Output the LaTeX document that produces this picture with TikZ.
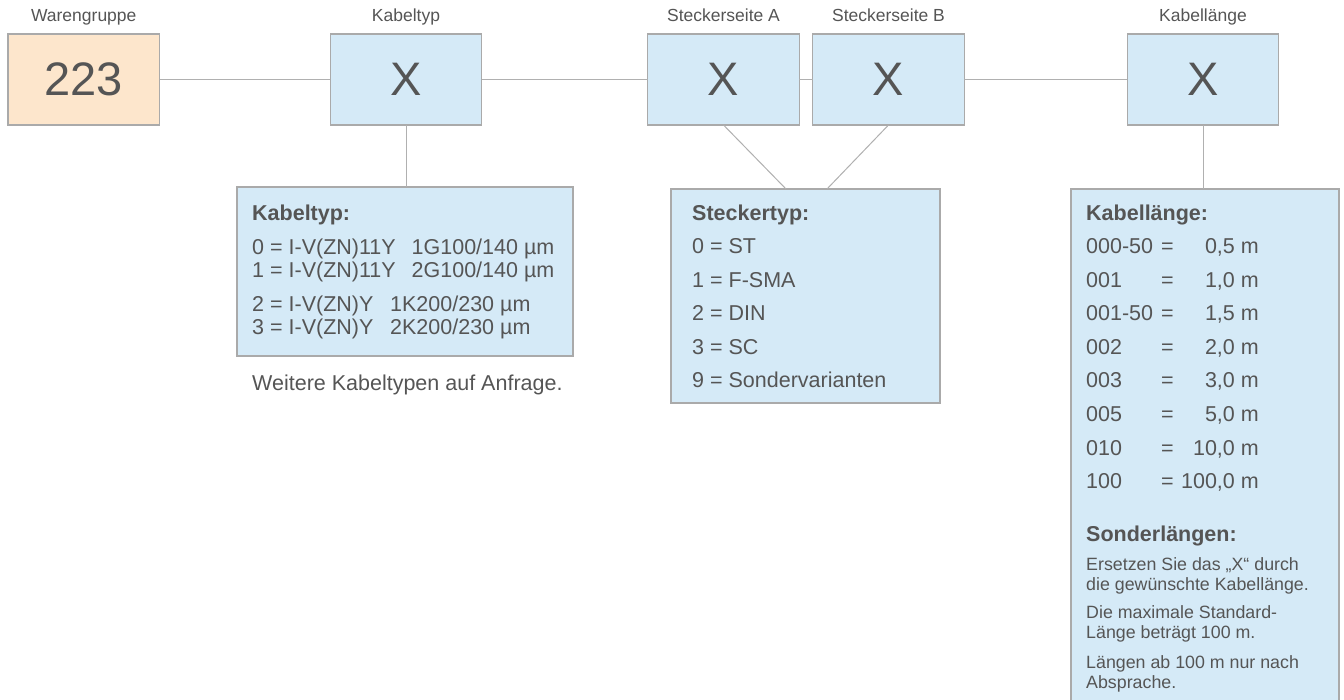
\documentclass[tikz,border=0pt]{standalone}
\usepackage{fontspec}
\setmainfont{Liberation Sans}
\definecolor{txt}{HTML}{555555}
\definecolor{bluef}{HTML}{D5EAF7}
\definecolor{orangef}{HTML}{FDE6CC}
\definecolor{bord}{HTML}{AAAAAA}
\definecolor{conn}{HTML}{B0B0B0}
\begin{document}
\begin{tikzpicture}[x=1pt,y=-1pt,
  codebox/.style={draw=bord, line width=1.2pt, minimum width=151.5pt, minimum height=91pt, inner sep=0pt, outer sep=0pt, text=txt, font=\fontsize{47}{47}\selectfont},
  bluebox/.style={codebox, fill=bluef},
  orangebox/.style={codebox, fill=orangef},
  toplabel/.style={text=txt, font=\fontsize{17.5}{17.5}\selectfont, anchor=base, inner sep=0pt},
  infobox/.style={draw=bord, line width=1.2pt, fill=bluef, inner sep=0pt, outer sep=0pt},
  body/.style={text=txt, font=\fontsize{21.5}{21.5}\selectfont, anchor=base west, inner sep=0pt},
  bodyr/.style={body, anchor=base east},
  head/.style={body, font=\fontsize{21.5}{21.5}\selectfont\bfseries},
  small/.style={body, font=\fontsize{17.8}{17.8}\selectfont},
  connector/.style={draw=conn, line width=1pt}]
\useasboundingbox (0,0) rectangle (1344,700);
\clip (0,0) rectangle (1344,700);

% code boxes
\node[orangebox] (wg) at (83.75,79.5) {223};
\node[bluebox] (kt) at (406,79.5) {X};
\node[bluebox] (sa) at (723.5,79.5) {X};
\node[bluebox] (sb) at (888.5,79.5) {X};
\node[bluebox] (kl) at (1203,79.5) {X};

% labels above
\node[toplabel] (lwg) at ([yshift=12pt]wg.north) {Warengruppe};
\node[toplabel] (lkt) at ([yshift=12pt]kt.north) {Kabeltyp};
\node[toplabel] (lsa) at ([yshift=12pt]sa.north) {Steckerseite A};
\node[toplabel] (lsb) at ([yshift=12pt]sb.north) {Steckerseite B};
\node[toplabel] (lkl) at ([yshift=12pt]kl.north) {Kabellänge};

% info boxes
\node[infobox, minimum width=336pt, minimum height=169pt] (ktinfo) at (405,271.5) {};
\node[infobox, minimum width=269pt, minimum height=214pt] (stinfo) at (805.5,296) {};
\node[infobox, minimum width=268pt, minimum height=516pt] (klinfo) at (1205,447) {};

% connectors
\draw[connector] (wg.east) -- (kt.west);
\draw[connector] (kt.east) -- (sa.west);
\draw[connector] (sa.east) -- (sb.west);
\draw[connector] (sb.east) -- (kl.west);
\draw[connector] (kt.south) -- (kt.south |- ktinfo.north);
\coordinate (sta) at (786,189);
\coordinate (stb) at (827,189);
\draw[connector] (sa.south) -- (sta);
\draw[connector] (sb.south) -- (stb);
\draw[connector] (kl.south) -- (kl.south |- klinfo.north);

% Kabeltyp text
\node[head] (kth) at (252,221) {Kabeltyp:};
\node[body] (kt0a) at (252,255) {0 = I-V(ZN)11Y};
\node[body] (kt0b) at (411.5,255) {1G100/140 µm};
\node[body] (kt1a) at (252,278) {1 = I-V(ZN)11Y};
\node[body] (kt1b) at (411.5,278) {2G100/140 µm};
\node[body] (kt2a) at (252,312) {2 = I-V(ZN)Y};
\node[body] (kt2b) at (390,312) {1K200/230 µm};
\node[body] (kt3a) at (252,335) {3 = I-V(ZN)Y};
\node[body] (kt3b) at (390,335) {2K200/230 µm};
\node[body] (ktw) at (252,391) {Weitere Kabeltypen auf Anfrage.};

% Steckertyp text
\node[head] (sth) at (692,221) {Steckertyp:};
\node[body] (st0) at (692,254) {0 = ST};
\node[body] (st1) at (692,288) {1 = F-SMA};
\node[body] (st2) at (692,321) {2 = DIN};
\node[body] (st3) at (692,355) {3 = SC};
\node[body] (st9) at (692,388) {9 = Sondervarianten};

% Kabellaenge text
\node[head] (klh) at (1086,221) {Kabellänge:};
\node[body] (kc1) at (1086,254) {000-50};
\node[body] (ke1) at (1161,254) {=};
\node[bodyr] (kv1) at (1259,254) {0,5 m};
\node[body] (kc2) at (1086,288) {001};
\node[body] (ke2) at (1161,288) {=};
\node[bodyr] (kv2) at (1259,288) {1,0 m};
\node[body] (kc3) at (1086,321) {001-50};
\node[body] (ke3) at (1161,321) {=};
\node[bodyr] (kv3) at (1259,321) {1,5 m};
\node[body] (kc4) at (1086,355) {002};
\node[body] (ke4) at (1161,355) {=};
\node[bodyr] (kv4) at (1259,355) {2,0 m};
\node[body] (kc5) at (1086,388) {003};
\node[body] (ke5) at (1161,388) {=};
\node[bodyr] (kv5) at (1259,388) {3,0 m};
\node[body] (kc6) at (1086,421) {005};
\node[body] (ke6) at (1161,421) {=};
\node[bodyr] (kv6) at (1259,421) {5,0 m};
\node[body] (kc7) at (1086,455) {010};
\node[body] (ke7) at (1161,455) {=};
\node[bodyr] (kv7) at (1259,455) {10,0 m};
\node[body] (kc8) at (1086,488) {100};
\node[body] (ke8) at (1161,488) {=};
\node[bodyr] (kv8) at (1259,488) {100,0 m};

\node[head] (slh) at (1086,541) {Sonderlängen:};
\node[small] (sl1) at (1086,570) {Ersetzen Sie das „X“ durch};
\node[small] (sl2) at (1086,590) {die gewünschte Kabellänge.};
\node[small] (sl3) at (1086,618) {Die maximale Standard-};
\node[small] (sl4) at (1086,638) {Länge beträgt 100 m.};
\node[small] (sl5) at (1086,668) {Längen ab 100 m nur nach};
\node[small] (sl6) at (1086,688) {Absprache.};
\end{tikzpicture}
\end{document}
